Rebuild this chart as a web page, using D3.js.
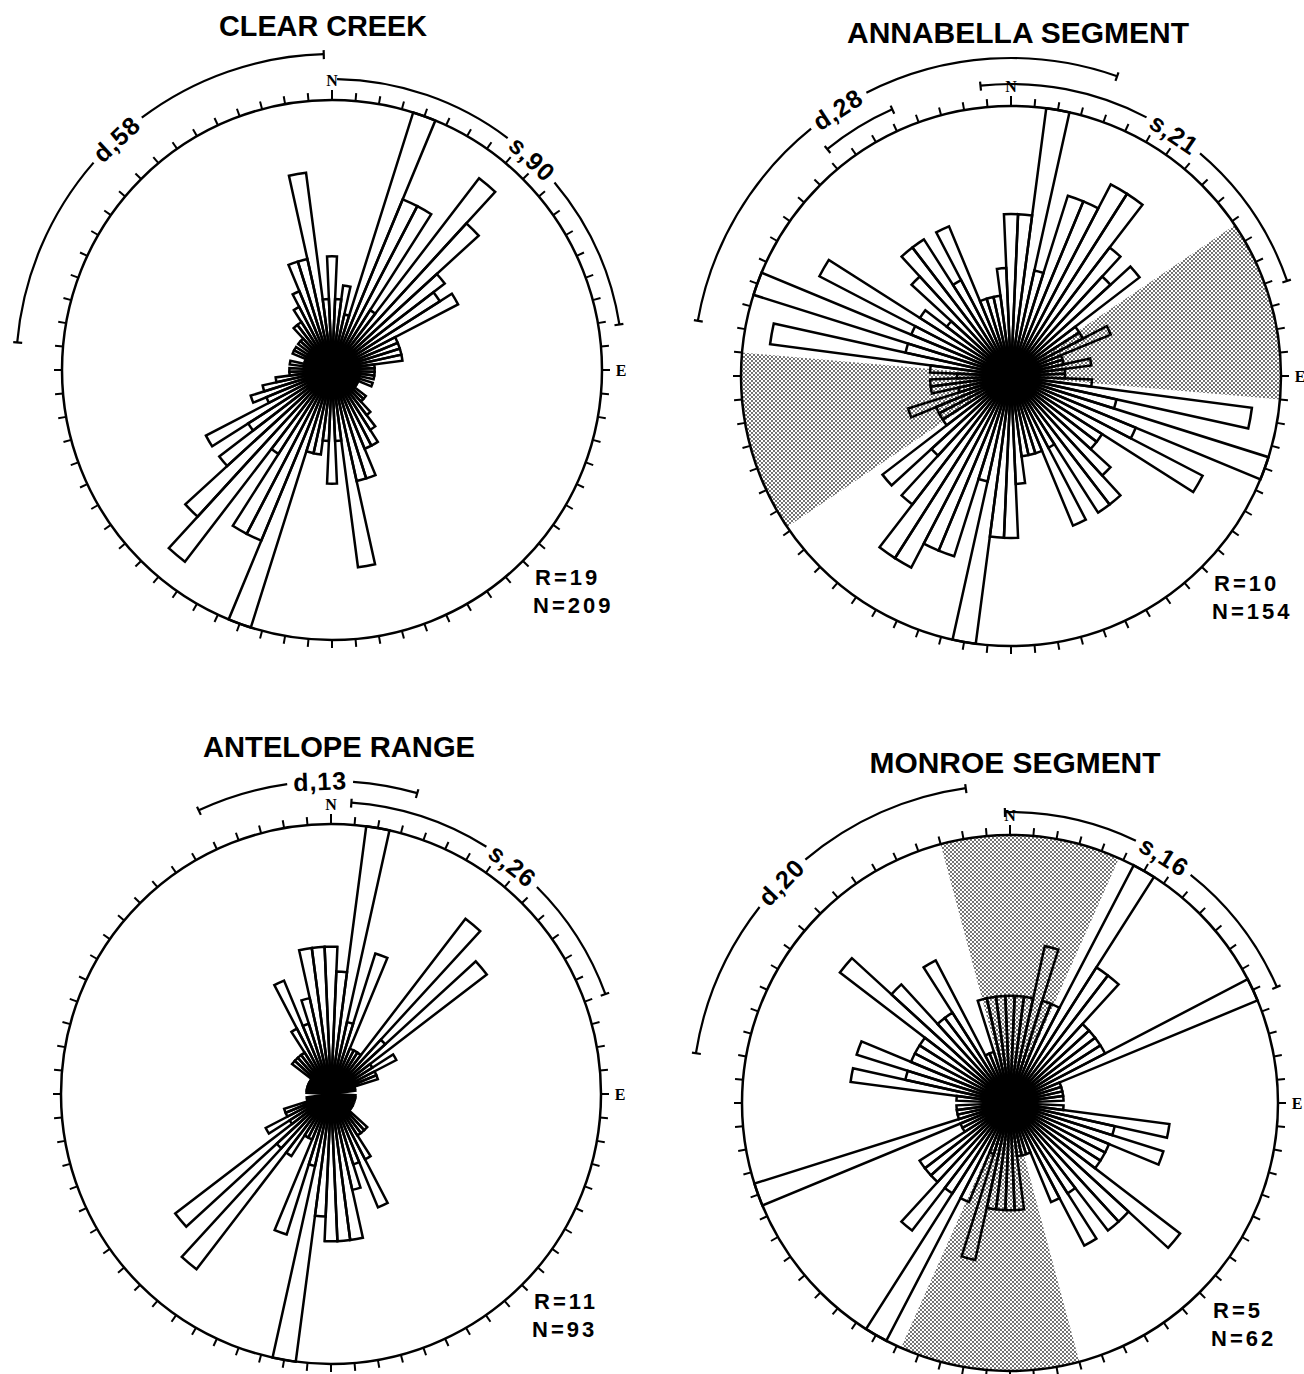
<!DOCTYPE html>
<html><head><meta charset="utf-8">
<script src="https://cdn.jsdelivr.net/npm/d3@7"></script>
<style>body{margin:0;background:#fff} svg{display:block}</style>
</head><body>
<svg id="c" width="1304" height="1374"></svg>
<script>
// ---------- DATA ----------
const binCenters = [0,5,10,15,20,25,30,35,40,45,50,55,60,65,70,75,80,85,90,95,100,105,110,115,
  120,125,130,135,140,145,150,155,160,165,170,175,180,185,190,195,200,205,210,215,220,225,230,235,
  240,245,250,255,260,265,270,275,280,285,290,295,300,305,310,315,320,325,330,335,340,345,350,355];
const clearCreekCounts = [
  8,5,6,4,19,13,13,5,17,14,10,9,
  10,5,5,5,5,3,3,3,3,2,3,2,
  2,2,3,3,4,5,6,6,8,8,14,5,
  8,5,6,6,19,13,13,7,17,14,10,7,
  10,5,6,5,4,3,3,2,3,2,2,3,
  3,2,3,3,4,4,5,6,8,8,14,5];
const annabellaCounts = [
  6,6,10,4,7,7,8,8,6,5,6,3,
  3,4,2,2,3,2,2,3,9,4,10,5,
  8,4,4,5,6,6,3,6,3,3,3,4,
  6,6,10,4,7,7,8,8,6,4,6,3,
  3,3,4,2,3,3,2,3,9,4,10,4,
  8,4,3,5,6,6,4,6,3,3,3,4];
const antelopeCounts = [
  6,5,11,3,6,2,2,2,9,3,8,2,
  3,2,2,1,1,0,0,1,1,1,0,1,
  1,1,1,2,2,2,3,5,3,4,6,6,
  6,5,11,3,6,2,2,3,9,3,8,2,
  3,2,2,1,1,0,0,1,1,1,1,1,
  1,1,2,2,2,2,3,5,3,4,6,6];
const monroeCounts = [
  2,2,2,3,2,2,5,3,3,2,2,2,
  2,5,1,1,1,1,0,1,3,2,3,2,
  2,2,4,3,3,2,3,2,1,1,1,2,
  2,2,2,3,1,2,5,2,3,2,2,2,
  1,1,5,1,1,1,0,1,3,2,3,2,
  2,2,4,3,2,2,3,1,1,2,2,2];
const roseTitles = ["CLEAR CREEK","ANNABELLA SEGMENT","ANTELOPE RANGE","MONROE SEGMENT"];
const roseRValues = [19,10,11,5];
const roseNValues = [209,154,93,62];
const dipLabels = ["d,58","d,28","d,13","d,20"];
const strikeLabels = ["s,90","s,21","s,26","s,16"];
const dipArcs = [[-85,-1.5],[-80,19.5],[-25,16],[-81,-8]];
const dipInnerArcs = [null,[-39,-24],null,null];
const strikeArcs = [[1,81],[-6,71],[4,70],[-1,66.5]];
const dipLabelAngles = [-43,-33,-2,-46];
const strikeLabelAngles = [43.5,34,38.5,32];
const shadedSectors = [[],[[56,95],[236,275]],[],[[-15,24],[165,204]]];
const compassLabels = ["N","E"];
const binWidth = 5;

// ---------- LAYOUT ----------
const allCounts = [clearCreekCounts, annabellaCounts, antelopeCounts, monroeCounts];
const layout = [
  {cx:332, cy:370, r:270, tx:323, ty:36, tw:208, dipR:316, strR:291, strStartTick:false},
  {cx:1011, cy:376, r:270, tx:1018, ty:43, tw:342, dipR:318, strR:292, strStartTick:true},
  {cx:331, cy:1094, r:270, tx:339, ty:757, tw:272, dipR:313, strR:292, strStartTick:true},
  {cx:1010, cy:1103, r:268, tx:1015, ty:773, tw:291, dipR:318, strR:291, strStartTick:true}
];

const svg = d3.select("#c");
svg.append("rect").attr("width",1304).attr("height",1374).attr("fill","#fff");
const defs = svg.append("defs");
const pat = defs.append("pattern").attr("id","dots").attr("width",4).attr("height",4)
  .attr("patternUnits","userSpaceOnUse");
pat.append("rect").attr("width",4).attr("height",4).attr("fill","#fff");
pat.append("circle").attr("cx",1).attr("cy",1).attr("r",0.9).attr("fill","#333");
pat.append("circle").attr("cx",3).attr("cy",3).attr("r",0.9).attr("fill","#333");

const SANS = "'Liberation Sans', Arial, Helvetica, sans-serif";
const SERIF = "'Liberation Serif', 'DejaVu Serif', serif";
const deg = d3.scaleLinear().domain([0,360]).range([0,2*Math.PI]);

function arcPath(rad, a0, a1){
  const p = d3.path();
  p.arc(0,0,rad, deg(a0)-Math.PI/2, deg(a1)-Math.PI/2, false);
  return p.toString();
}
function polar(rad, a){ const t = deg(a); return [rad*Math.sin(t), -rad*Math.cos(t)]; }

function endTick(g, rad, a){
  const [x0,y0] = polar(rad-5, a), [x1,y1] = polar(rad+4, a);
  g.append("line").attr("x1",x0).attr("y1",y0).attr("x2",x1).attr("y2",y1)
    .attr("stroke","#000").attr("stroke-width",2.2);
}

function labelledArc(g, rad, range, label, labelAngle, startTick){
  const t = g.append("g").attr("transform",`rotate(${labelAngle}) translate(0,${-rad})`);
  const txt = t.append("text").text(label).attr("text-anchor","middle")
    .attr("dominant-baseline","central").attr("font-family",SANS).attr("font-weight","bold")
    .attr("font-size",25).attr("letter-spacing",1).attr("fill","#000");
  const len = txt.node().getComputedTextLength();
  const half = (len/2 + 6)/rad * 180/Math.PI;
  const segs = [[range[0], labelAngle-half],[labelAngle+half, range[1]]];
  segs.forEach(s => { if (s[1] > s[0]) g.append("path").attr("d",arcPath(rad,s[0],s[1]))
    .attr("fill","none").attr("stroke","#000").attr("stroke-width",2.2); });
  if (startTick) endTick(g, rad, range[0]);
  endTick(g, rad, range[1]);
}

layout.forEach((L, i) => {
  const counts = allCounts[i];
  const g = svg.append("g").attr("transform",`translate(${L.cx},${L.cy})`);
  const rScale = d3.scaleLinear().domain([0, roseRValues[i]]).range([0, L.r]);

  // shaded sectors
  const shadeArc = d3.arc().innerRadius(0).outerRadius(L.r);
  shadedSectors[i].forEach(s => {
    g.append("path").attr("d", shadeArc({startAngle:deg(s[0]), endAngle:deg(s[1])}))
      .attr("fill","url(#dots)").attr("stroke","none");
  });

  // bars
  const barArc = d3.arc().innerRadius(0);
  binCenters.forEach((c, k) => {
    const v = counts[k];
    if (!v) return;
    g.append("path").attr("d", barArc({outerRadius:rScale(v),
        startAngle:deg(c-binWidth/2), endAngle:deg(c+binWidth/2)}))
      .attr("fill","none").attr("stroke","#000").attr("stroke-width",2.5)
      .attr("stroke-linejoin","miter");
  });

  // outer circle + ticks
  g.append("circle").attr("r",L.r).attr("fill","none").attr("stroke","#000").attr("stroke-width",2.5);
  d3.range(0,360,5).forEach(a => {
    const [x0,y0] = polar(L.r, a), [x1,y1] = polar(L.r + (a===0?10:8), a);
    g.append("line").attr("x1",x0).attr("y1",y0).attr("x2",x1).attr("y2",y1)
      .attr("stroke","#000").attr("stroke-width",2);
  });

  // compass letters
  const [nx,ny] = polar(L.r+20, 0), [ex,ey] = polar(L.r+19, 90);
  [[compassLabels[0],nx,ny],[compassLabels[1],ex,ey]].forEach(d => {
    g.append("text").text(d[0]).attr("x",d[1]).attr("y",d[2]).attr("text-anchor","middle")
      .attr("dominant-baseline","central").attr("font-family",SERIF).attr("font-weight","bold")
      .attr("font-size",16).attr("fill","#000");
  });

  // dip and strike arcs
  labelledArc(g, L.dipR, dipArcs[i], dipLabels[i], dipLabelAngles[i], true);
  if (dipInnerArcs[i]) {
    g.append("path").attr("d",arcPath(L.strR, dipInnerArcs[i][0], dipInnerArcs[i][1]))
      .attr("fill","none").attr("stroke","#000").attr("stroke-width",2.2);
    endTick(g, L.strR, dipInnerArcs[i][0]); endTick(g, L.strR, dipInnerArcs[i][1]);
  }
  labelledArc(g, L.strR, strikeArcs[i], strikeLabels[i], strikeLabelAngles[i], L.strStartTick);

  // R / N labels
  g.append("text").text("R=" + roseRValues[i]).attr("x",203).attr("y",215)
    .attr("font-family",SANS).attr("font-weight","bold").attr("font-size",22)
    .attr("letter-spacing",3).attr("fill","#000");
  g.append("text").text("N=" + roseNValues[i]).attr("x",201).attr("y",243)
    .attr("font-family",SANS).attr("font-weight","bold").attr("font-size",22)
    .attr("letter-spacing",3).attr("fill","#000");

  // title
  svg.append("text").text(roseTitles[i]).attr("x",L.tx).attr("y",L.ty)
    .attr("text-anchor","middle").attr("font-family",SANS).attr("font-weight","bold")
    .attr("font-size",29).attr("textLength",L.tw).attr("lengthAdjust","spacingAndGlyphs")
    .attr("fill","#000");
});
</script>
</body></html>
